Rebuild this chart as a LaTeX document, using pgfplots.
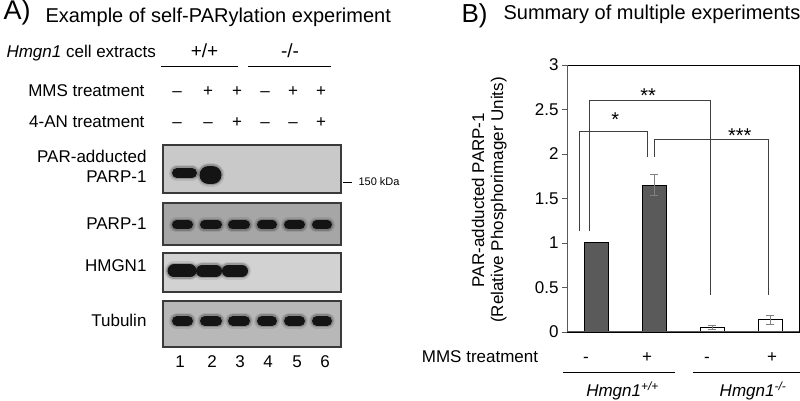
\documentclass[border=0pt]{standalone}
\usepackage{fontspec}
\setmainfont{Liberation Sans}
\usepackage{pgfplots}
\pgfplotsset{compat=1.18}
\definecolor{barfill}{HTML}{5A5A5A}
\definecolor{blotA}{HTML}{C9C9C9}
\definecolor{blotB}{HTML}{A6A6A6}
\definecolor{blotC}{HTML}{D2D2D2}
\definecolor{blotD}{HTML}{B8B8B8}
\definecolor{blotedge}{HTML}{3A3A3A}
\definecolor{bandc}{HTML}{141414}
\newcommand\fs[1]{\fontsize{#1}{#1}\selectfont}
% band: x1 x2 (inset endpoints), y, thickness
\newcommand\band[4]{%
 \addplot[line width=#4pt+6pt, line cap=round, bandc, opacity=0.10, forget plot] coordinates {(#1,#3) (#2,#3)};
 \addplot[line width=#4pt+3pt, line cap=round, bandc, opacity=0.22, forget plot] coordinates {(#1,#3) (#2,#3)};
 \addplot[line width=#4pt, line cap=round, bandc, forget plot] coordinates {(#1,#3) (#2,#3)};
}
\newcommand\tx[4]{\node[anchor=#1, font=\fs{#2}] at (#3) {#4};}
\begin{document}
\begin{tikzpicture}[x=1pt,y=1pt]
\path[use as bounding box] (0,0) rectangle (800,401);
\begin{axis}[at={(0pt,0pt)}, anchor=south west, scale only axis, width=800pt, height=401pt,
  xmin=0, xmax=800, ymin=0, ymax=401, hide axis, clip=false,
  every node/.append style={inner sep=0pt}]
% blot backgrounds
\addplot[fill=blotA, draw=blotedge, line width=1.5pt] coordinates {(163,256) (341,256) (341,208) (163,208)} -- cycle;
\addplot[fill=blotB, draw=blotedge, line width=1.5pt] coordinates {(163,198) (341,198) (341,156) (163,156)} -- cycle;
\addplot[fill=blotC, draw=blotedge, line width=1.5pt] coordinates {(163,148) (341,148) (341,109) (163,109)} -- cycle;
\addplot[fill=blotD, draw=blotedge, line width=1.5pt] coordinates {(163,100) (341,100) (341,54) (163,54)} -- cycle;
% PAR-adducted PARP-1
\band{177}{192}{228}{10}
\band{208.5}{212.5}{226}{18}
% PARP-1
\band{176.5}{188.5}{176}{9}
\band{204.5}{217.5}{176}{9}
\band{232.5}{245.5}{176}{9}
\band{261.5}{272.5}{176}{9}
\band{288.5}{300.5}{176}{9}
\band{316.5}{327.5}{176}{9}
% HMGN1
\band{174}{190}{130}{13}
\band{202}{216}{130}{12}
\band{228}{242}{130}{12}
% Tubulin
\band{177}{188}{80}{10}
\band{205}{217}{80}{10}
\band{233}{245}{80}{10}
\band{262}{272}{80}{10}
\band{289}{300}{80}{10}
\band{317}{327}{80}{10}
% group lines
\addplot[black, line width=1pt] coordinates {(161,334) (238,334)};
\addplot[black, line width=1pt] coordinates {(248,334) (331,334)};
\addplot[black, line width=0.8pt] coordinates {(343,219) (352,219)};
\addplot[black, line width=1pt] coordinates {(563,28) (675,28)};
\addplot[black, line width=1pt] coordinates {(693,28) (800,28)};
% panel A text
\tx{base west}{27}{0,381}{A)}
\tx{base west}{20}{42,378}{Example of self-PARylation experiment}
\tx{base west}{17}{3,343}{\textit{Hmgn1} cell extracts}
\tx{base}{19}{204.5,343}{+/+}
\tx{base}{19}{290,343}{-/-}
\tx{base east}{17}{148,304}{MMS treatment}
\tx{base east}{17}{148,273}{4-AN treatment}
\tx{base}{17}{177,304}{–}
\tx{base}{17}{208,304}{+}
\tx{base}{17}{237,304}{+}
\tx{base}{17}{265,304}{–}
\tx{base}{17}{293,304}{+}
\tx{base}{17}{321,304}{+}
\tx{base}{17}{177,273}{–}
\tx{base}{17}{208,273}{–}
\tx{base}{17}{237,273}{+}
\tx{base}{17}{265,273}{–}
\tx{base}{17}{293,273}{–}
\tx{base}{17}{321,273}{+}
\tx{base east}{17}{150,238}{PAR-adducted}
\tx{base east}{17}{150,218}{PARP-1}
\tx{base east}{17}{150,171}{PARP-1}
\tx{base east}{17}{150,129}{HMGN1}
\tx{base east}{17}{150,74}{Tubulin}
\tx{west}{11}{355,219}{150 kDa}
\tx{base}{17}{180,33}{1}
\tx{base}{17}{212,33}{2}
\tx{base}{17}{240,33}{3}
\tx{base}{17}{268,33}{4}
\tx{base}{17}{297,33}{5}
\tx{base}{17}{325,33}{6}
% panel B text
\tx{base west}{26}{458,378}{B)}
\tx{base west}{20}{500,381}{Summary of multiple experiments}
\node[anchor=base, rotate=90, font=\fs{17}] at (484,201) {PAR-adducted PARP-1};
\node[anchor=base, rotate=90, font=\fs{17}] at (503,201) {(Relative Phosphorimager Units)};
\tx{base}{17}{480,38}{MMS treatment}
\tx{base}{17}{586,38}{-}
\tx{base}{17}{647,38}{+}
\tx{base}{17}{707,38}{-}
\tx{base}{17}{772,38}{+}
\tx{base}{17}{622.5,4}{\textit{Hmgn1\textsuperscript{+/+}}}
\tx{base}{17}{753,4}{\textit{Hmgn1\textsuperscript{-/-}}}
\end{axis}
\begin{axis}[at={(567pt,69pt)}, anchor=south west, scale only axis, width=232pt, height=267pt,
  xmin=-0.5, xmax=3.5, ymin=0, ymax=3, clip=false,
  xtick=\empty, ytick={0,0.5,1,1.5,2,2.5,3}, yticklabels={0,0.5,1,1.5,2,2.5,3},
  ytick pos=left, tick align=outside, major tick length=5pt,
  tick style={gray!70!black, line width=0.8pt},
  yticklabel style={font=\fs{17}},
  /pgf/number format/assume math mode=true,
  axis line style={black, line width=0.9pt}]
\addplot[ybar, bar width=24pt, bar shift=0pt, fill=barfill, draw=black, line width=1pt] coordinates {(0,1.0)};
\addplot[ybar, bar width=24pt, bar shift=0pt, fill=barfill, draw=black, line width=1pt,
  error bars/.cd, y dir=both, y explicit, error bar style={line width=0.8pt, gray},
  error mark options={rotate=90, mark size=4pt, line width=0.8pt, gray}] coordinates {(1,1.65) +- (0,0.12)};
\addplot[ybar, bar width=24pt, bar shift=0pt, fill=white, draw=black, line width=1pt,
  error bars/.cd, y dir=both, y explicit, error bar style={line width=0.8pt, gray},
  error mark options={rotate=90, mark size=4pt, line width=0.8pt, gray}] coordinates {(2,0.05) +- (0,0.025) (3,0.135) +- (0,0.048)};
% significance brackets
\addplot[black!75, line width=0.7pt] coordinates {(-0.28,1.13) (-0.28,2.26) (0.88,2.26) (0.88,1.97)};
\addplot[black!75, line width=0.7pt] coordinates {(-0.12,1.13) (-0.12,2.6) (1.97,2.6) (1.97,0.42)};
\addplot[black!75, line width=0.7pt] coordinates {(1.0,1.97) (1.0,2.16) (2.98,2.16) (2.98,0.42)};
\node[anchor=base, font=\fs{20}, inner sep=0pt] at (axis cs:0.33,2.31) {*};
\node[anchor=base, font=\fs{20}, inner sep=0pt] at (axis cs:0.9,2.58) {**};
\node[anchor=base, font=\fs{20}, inner sep=0pt] at (axis cs:2.48,2.13) {***};
\draw[gray!70!black, line width=1pt] (rel axis cs:0,1) -- (rel axis cs:0,0) -- (rel axis cs:1,0);
\end{axis}
\end{tikzpicture}
\end{document}
